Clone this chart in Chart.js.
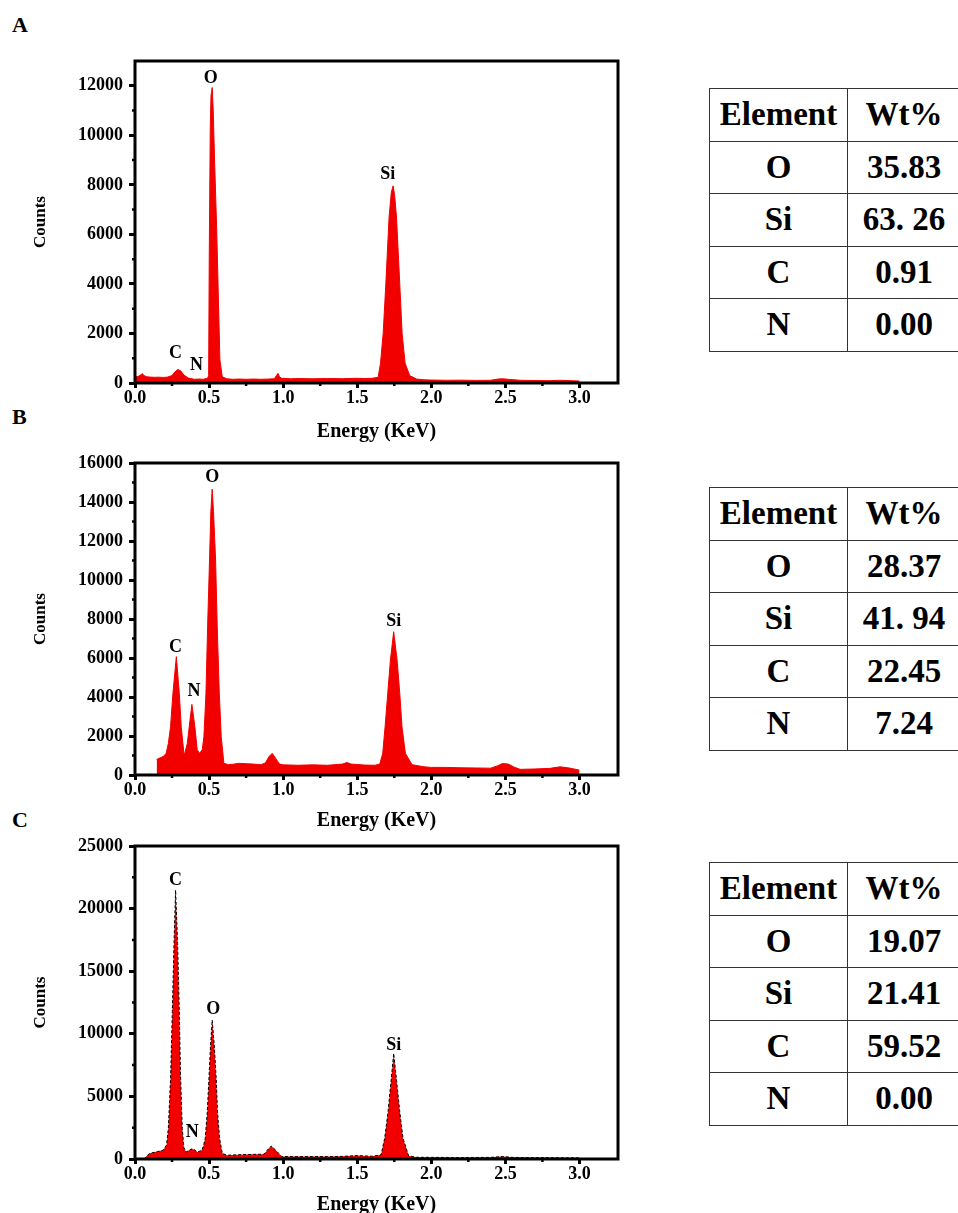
<!DOCTYPE html>
<html>
<head>
<meta charset="utf-8">
<script src="https://cdn.jsdelivr.net/npm/chart.js@4.4.0/dist/chart.umd.min.js"></script>
<style>
  html, body { margin: 0; padding: 0; background: #fff; width: 958px; height: 1213px; overflow: hidden; }
  body { position: relative; font-family: "Liberation Serif", "Times New Roman", serif; color: #000; }
  canvas { position: absolute; left: 0; }
  .tag { position: absolute; left: 12px; font-weight: bold; font-size: 22px; line-height: 1; }
  table.wt { position: absolute; left: 709px; width: 251px; border-collapse: collapse; table-layout: fixed;
    font-family: "Liberation Serif", "Times New Roman", serif; font-weight: bold; font-size: 33px; }
  table.wt td { border: 1.5px solid #333; height: 51.5px; padding: 0; text-align: center;
    font-family: "Liberation Serif", "Times New Roman", serif; }
</style>
</head>
<body>
<div class="tag" style="top:14px">A</div>
<div class="tag" style="top:406px">B</div>
<div class="tag" style="top:809px">C</div>

<canvas id="chartA" width="640" height="410" style="top:40px"></canvas>
<canvas id="chartB" width="640" height="400" style="top:440px"></canvas>
<canvas id="chartC" width="640" height="395" style="top:825px"></canvas>

<table class="wt" id="tableA" style="top:88px"></table>
<table class="wt" id="tableB" style="top:487px"></table>
<table class="wt" id="tableC" style="top:862px"></table>

<script>
// EDS spectra, energy in KeV and counts
const energyA = [0.00, 0.02, 0.04, 0.05, 0.06, 0.08, 0.10, 0.13, 0.16, 0.19, 0.22, 0.25, 0.27, 0.29, 0.31, 0.33, 0.36, 0.40, 0.43, 0.46, 0.49,
  0.497, 0.501, 0.508, 0.513, 0.521, 0.528, 0.537, 0.551, 0.562, 0.573, 0.589, 0.62, 0.66, 0.70, 0.75, 0.80, 0.85, 0.90, 0.94,
  0.955, 0.965, 0.975, 0.99, 1.05, 1.10, 1.20, 1.30, 1.40, 1.50, 1.55, 1.60, 1.641, 1.657, 1.675, 1.693, 1.715, 1.73, 1.742,
  1.752, 1.765, 1.787, 1.803, 1.823, 1.854, 1.90, 1.95, 2.00, 2.10, 2.20, 2.30, 2.40, 2.45, 2.48, 2.52, 2.60, 2.70, 2.80, 2.87, 2.95, 3.00];
const countsA = [250, 260, 330, 380, 300, 250, 240, 230, 235, 225, 240, 300, 450, 550, 480, 320, 200, 150, 160, 150, 190,
  300, 5000, 10300, 11600, 11930, 11000, 9000, 6300, 3600, 930, 250, 170, 150, 160, 150, 160, 150, 160, 170,
  300, 390, 250, 190, 170, 180, 170, 180, 175, 190, 180, 190, 230, 800, 2000, 4000, 6700, 7700, 7960,
  7600, 6700, 4000, 2000, 800, 300, 160, 130, 120, 110, 115, 105, 110, 160, 170, 150, 110, 100, 95, 110, 90, 80];

const energyB = [0.146, 0.17, 0.19, 0.21, 0.225, 0.24, 0.256, 0.279, 0.299, 0.312, 0.33, 0.335, 0.353, 0.366, 0.384, 0.404, 0.42, 0.436,
  0.454, 0.465, 0.479, 0.49, 0.503, 0.512, 0.521, 0.53, 0.544, 0.555, 0.569, 0.582, 0.60, 0.63, 0.67, 0.70, 0.75, 0.80, 0.85,
  0.88, 0.905, 0.926, 0.95, 0.975, 1.00, 1.10, 1.20, 1.30, 1.40, 1.43, 1.46, 1.55, 1.62, 1.652, 1.672, 1.688, 1.706, 1.724,
  1.746, 1.769, 1.787, 1.802, 1.825, 1.87, 1.95, 2.00, 2.10, 2.20, 2.30, 2.40, 2.45, 2.48, 2.52, 2.56, 2.60, 2.70, 2.80, 2.87, 2.93, 3.00];
const countsB = [800, 880, 950, 1100, 1620, 2480, 4190, 6070, 4190, 2480, 1110, 1080, 1620, 2480, 3620, 2480, 1300, 1110,
  1300, 1965, 4190, 7600, 11020, 13500, 14660, 13500, 11020, 7600, 4190, 1965, 600, 530, 560, 600, 580, 560, 530,
  620, 950, 1110, 850, 560, 520, 500, 520, 500, 560, 640, 560, 510, 500, 560, 1110, 2480, 4190, 5900,
  7350, 5900, 4190, 2480, 1110, 530, 420, 390, 390, 370, 360, 350, 480, 590, 560, 400, 290, 310, 340, 420, 360, 250];

const energyC = [0.061, 0.08, 0.10, 0.15, 0.19, 0.213, 0.225, 0.24, 0.252, 0.263, 0.274, 0.288, 0.299, 0.308, 0.319, 0.33, 0.345,
  0.365, 0.38, 0.40, 0.42, 0.45, 0.461, 0.474, 0.488, 0.499, 0.51, 0.521, 0.535, 0.548, 0.557, 0.571, 0.589, 0.62, 0.70, 0.80,
  0.87, 0.90, 0.92, 0.95, 0.99, 1.10, 1.20, 1.30, 1.40, 1.50, 1.60, 1.661, 1.685, 1.708, 1.73, 1.746, 1.764, 1.787, 1.809,
  1.847, 1.90, 2.00, 2.20, 2.40, 2.48, 2.55, 2.70, 2.90, 3.00];
const countsC = [0, 250, 450, 590, 700, 1120, 2450, 6440, 11770, 17090, 21480, 17090, 11770, 6440, 2450, 900, 550,
  700, 800, 760, 530, 700, 1000, 1650, 3780, 6440, 9100, 11100, 9100, 6440, 3780, 1650, 450, 300, 340, 370,
  380, 800, 1040, 700, 200, 190, 200, 190, 210, 270, 220, 330, 1650, 3780, 6440, 8440, 6440, 3780, 1650,
  250, 140, 130, 120, 130, 200, 130, 110, 100, 90];

// axis ticks
const xTicks = [0, 0.5, 1.0, 1.5, 2.0, 2.5, 3.0];
const xMinor = [0.25, 0.75, 1.25, 1.75, 2.25, 2.75];
const yTicksA = [0, 2000, 4000, 6000, 8000, 10000, 12000];
const yMinorA = [1000, 3000, 5000, 7000, 9000, 11000];
const yTicksB = [0, 2000, 4000, 6000, 8000, 10000, 12000, 14000, 16000];
const yMinorB = [1000, 3000, 5000, 7000, 9000, 11000, 13000, 15000];
const yTicksC = [0, 5000, 10000, 15000, 20000, 25000];
const yMinorC = [2500, 7500, 12500, 17500, 22500];

// peak labels
const peakNamesA = ["O", "Si", "C", "N"];
const peakEnergyA = [0.512, 1.706, 0.273, 0.415];
const peakCountsA = [12310, 8440, 1200, 720];
const peakNamesB = ["O", "Si", "C", "N"];
const peakEnergyB = [0.521, 1.746, 0.274, 0.398];
const peakCountsB = [15270, 7900, 6530, 4310];
const peakNamesC = ["C", "O", "Si", "N"];
const peakEnergyC = [0.274, 0.528, 1.746, 0.386];
const peakCountsC = [22230, 11980, 9100, 2130];

// composition tables
const elements = ["O", "Si", "C", "N"];
const wtA = ["35.83", "63. 26", "0.91", "0.00"];
const wtB = ["28.37", "41. 94", "22.45", "7.24"];
const wtC = ["19.07", "21.41", "59.52", "0.00"];

const RED = "rgb(242,0,0)";
const SERIF = "'Liberation Serif', 'Times New Roman', serif";

function fillTable(id, values) {
  const t = document.getElementById(id);
  let html = '<colgroup><col style="width:138px"><col style="width:113px"></colgroup>';
  html += "<tr><td>Element</td><td>Wt%</td></tr>";
  elements.forEach((el, i) => {
    html += "<tr><td>" + el + "</td><td>" + values[i] + "</td></tr>";
  });
  t.innerHTML = html;
}
fillTable("tableA", wtA);
fillTable("tableB", wtB);
fillTable("tableC", wtC);

// frame around the plot area
const framePlugin = {
  id: "frame",
  afterDatasetsDraw(chart) {
    const { ctx, chartArea: a } = chart;
    ctx.save();
    ctx.strokeStyle = "#000";
    ctx.lineWidth = 3;
    ctx.strokeRect(a.left, a.top, a.right - a.left, a.bottom - a.top);
    ctx.restore();
  }
};

// short minor ticks
const minorPlugin = {
  id: "minorTicks",
  afterDraw(chart, args, opts) {
    const { ctx, chartArea: a, scales } = chart;
    ctx.save();
    ctx.strokeStyle = "#000";
    ctx.lineWidth = 2.5;
    ctx.beginPath();
    opts.x.forEach(v => {
      const px = scales.x.getPixelForValue(v);
      ctx.moveTo(px, a.bottom);
      ctx.lineTo(px, a.bottom + 3);
    });
    opts.y.forEach(v => {
      const py = scales.y.getPixelForValue(v);
      ctx.moveTo(a.left, py);
      ctx.lineTo(a.left - 3, py);
    });
    ctx.stroke();
    ctx.restore();
  }
};

// element names above the peaks
const peakPlugin = {
  id: "peakLabels",
  afterDraw(chart, args, opts) {
    const { ctx, scales } = chart;
    ctx.save();
    ctx.fillStyle = "#000";
    ctx.font = "bold 18px " + SERIF;
    ctx.textAlign = "center";
    ctx.textBaseline = "middle";
    opts.names.forEach((n, i) => {
      ctx.fillText(n, scales.x.getPixelForValue(opts.energy[i]), scales.y.getPixelForValue(opts.counts[i]));
    });
    ctx.restore();
  }
};

function makeChart(id, cfg) {
  const points = cfg.energy.map((e, i) => ({ x: e, y: cfg.counts[i] }));
  return new Chart(document.getElementById(id), {
    type: "line",
    data: {
      datasets: [{
        data: points,
        backgroundColor: RED,
        borderColor: cfg.outline ? "#000" : RED,
        borderWidth: 1,
        borderDash: cfg.outline ? [3, 2] : [],
        fill: "origin",
        pointRadius: 0,
        tension: 0
      }]
    },
    options: {
      responsive: false,
      animation: false,
      layout: { padding: { top: cfg.padTop, right: 22, left: 0, bottom: 0 } },
      plugins: {
        legend: { display: false },
        tooltip: { enabled: false },
        minorTicks: { x: xMinor, y: cfg.yMinor },
        peakLabels: { names: cfg.names, energy: cfg.peakE, counts: cfg.peakC }
      },
      scales: {
        x: {
          type: "linear",
          min: 0,
          max: 3.26,
          afterBuildTicks: s => { s.ticks = xTicks.map(v => ({ value: v })); },
          afterFit: s => { s.height = cfg.xHeight; },
          border: { display: false },
          grid: { drawOnChartArea: false, tickLength: 5, tickWidth: 3, tickColor: "#000" },
          ticks: {
            color: "#000",
            padding: 0,
            maxRotation: 0,
            autoSkip: false,
            font: { family: SERIF, size: 18, weight: "bold" },
            callback: v => Number(v).toFixed(1)
          },
          title: {
            display: true,
            text: "Energy (KeV)",
            color: "#000",
            font: { family: SERIF, size: 20, weight: "bold" },
            padding: { top: 0, bottom: cfg.titlePad }
          }
        },
        y: {
          min: 0,
          max: cfg.yMax,
          afterBuildTicks: s => { s.ticks = cfg.yTicks.map(v => ({ value: v })); },
          afterFit: s => { s.width = 135; },
          border: { display: false },
          grid: { drawOnChartArea: false, tickLength: 6, tickWidth: 3, tickColor: "#000" },
          ticks: {
            color: "#000",
            padding: 6,
            autoSkip: false,
            font: { family: SERIF, size: 18, weight: "bold" },
            callback: v => String(v)
          },
          title: {
            display: true,
            text: "Counts",
            color: "#000",
            font: { family: SERIF, size: 17, weight: "bold" },
            padding: { top: 30, bottom: 0 }
          }
        }
      }
    },
    plugins: [framePlugin, minorPlugin, peakPlugin]
  });
}

makeChart("chartA", {
  energy: energyA, counts: countsA, yMax: 13000, yTicks: yTicksA, yMinor: yMinorA,
  names: peakNamesA, peakE: peakEnergyA, peakC: peakCountsA,
  padTop: 21, xHeight: 67, titlePad: 6, outline: false
});
makeChart("chartB", {
  energy: energyB, counts: countsB, yMax: 16000, yTicks: yTicksB, yMinor: yMinorB,
  names: peakNamesB, peakE: peakEnergyB, peakC: peakCountsB,
  padTop: 23, xHeight: 65, titlePad: 7, outline: false
});
makeChart("chartC", {
  energy: energyC, counts: countsC, yMax: 25000, yTicks: yTicksC, yMinor: yMinorC,
  names: peakNamesC, peakE: peakEnergyC, peakC: peakCountsC,
  padTop: 21, xHeight: 61, titlePad: 3, outline: true
});
</script>
</body>
</html>
